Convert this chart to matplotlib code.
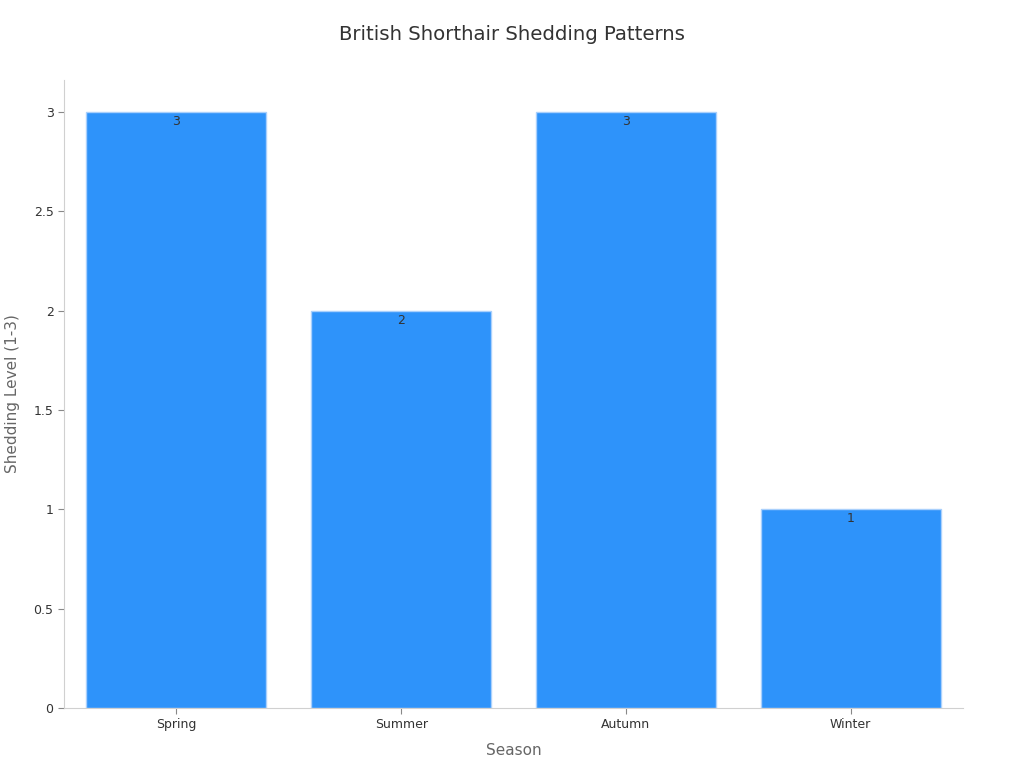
import matplotlib
matplotlib.use("Agg")
import matplotlib.pyplot as plt

# DATA
seasons = ["Spring", "Summer", "Autumn", "Winter"]
shedding = [3, 2, 3, 1]
y_ticks = [0, 0.5, 1, 1.5, 2, 2.5, 3]
y_tick_labels = ["0", "0.5", "1", "1.5", "2", "2.5", "3"]

fig = plt.figure(figsize=(10.24, 7.68), dpi=100)
ax = fig.add_axes([64 / 1024, 60 / 768, 899 / 1024, 628 / 768])

bars = ax.bar(range(len(seasons)), shedding, width=0.8,
              color="#2E93FA", edgecolor="#A9D0FC", linewidth=1)

for i, v in enumerate(shedding):
    ax.text(i, v - 0.015, str(v), ha="center", va="top",
            fontsize=9, color="#333333")

ax.set_xlim(-0.5, 3.5)
ax.set_ylim(0, 3.16)
ax.set_xticks(range(len(seasons)))
ax.set_xticklabels(seasons)
ax.set_yticks(y_ticks)
ax.set_yticklabels(y_tick_labels)
ax.tick_params(labelsize=9, colors="#333333", length=4)
ax.tick_params(axis="both", color="#888888")

for side in ["top", "right"]:
    ax.spines[side].set_visible(False)
for side in ["left", "bottom"]:
    ax.spines[side].set_color("#D0D0D0")

ax.set_xlabel("Season", fontsize=11, color="#666666", labelpad=8)
ax.set_ylabel("Shedding Level (1-3)", fontsize=11, color="#666666", labelpad=10)
fig.suptitle("British Shorthair Shedding Patterns", fontsize=14.2,
             color="#333333", x=0.5, y=0.968)

fig.savefig("out.png", dpi=100)
